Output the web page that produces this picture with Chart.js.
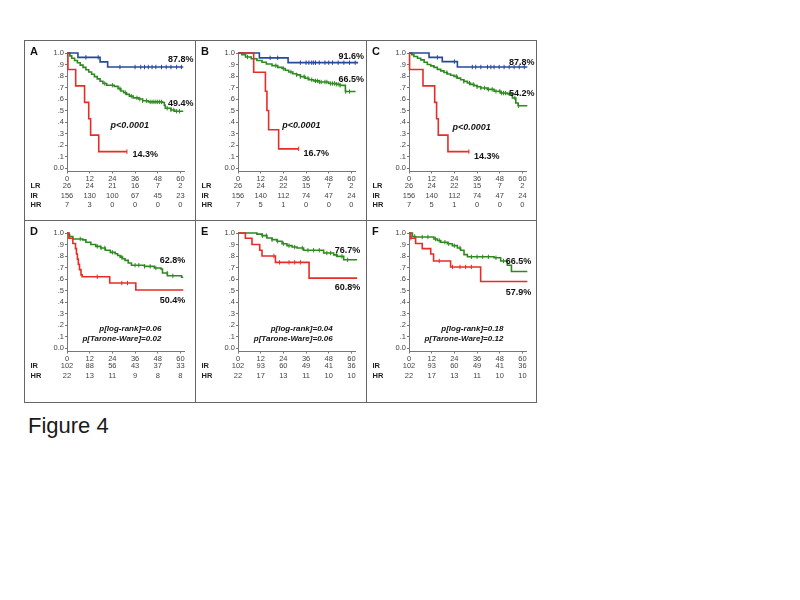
<!DOCTYPE html>
<html>
<head>
<meta charset="utf-8">
<script src="https://cdn.jsdelivr.net/npm/chart.js@4.4.1/dist/chart.umd.min.js"></script>
<style>
  body { margin: 0; background: #fff; width: 800px; height: 600px; position: relative; overflow: hidden;
         font-family: "Liberation Sans", Arial, sans-serif; }
  canvas { position: absolute; }
  .rule { position: absolute; background: #666; }
  #caption { position: absolute; left: 28px; top: 415px; font-size: 22px; line-height: 22px; color: #1a1a1a; }
</style>
</head>
<body>
<canvas id="cA" width="171" height="180" style="left:24px;top:40px"></canvas>
<canvas id="cB" width="171" height="180" style="left:195px;top:40px"></canvas>
<canvas id="cC" width="171" height="180" style="left:366px;top:40px"></canvas>
<canvas id="cD" width="171" height="183" style="left:24px;top:220px"></canvas>
<canvas id="cE" width="171" height="183" style="left:195px;top:220px"></canvas>
<canvas id="cF" width="171" height="183" style="left:366px;top:220px"></canvas>

<div class="rule" style="left:24px;top:40px;width:513px;height:1px"></div>
<div class="rule" style="left:24px;top:402px;width:513px;height:1px"></div>
<div class="rule" style="left:24px;top:220px;width:513px;height:1px"></div>
<div class="rule" style="left:24px;top:40px;width:1px;height:363px"></div>
<div class="rule" style="left:195px;top:40px;width:1px;height:363px"></div>
<div class="rule" style="left:366px;top:40px;width:1px;height:363px"></div>
<div class="rule" style="left:536px;top:40px;width:1px;height:363px"></div>
<div id="caption">Figure 4</div>

<script>
// axis ticks
const months = [0, 12, 24, 36, 48, 60];
const yTicks = [0, 0.1, 0.2, 0.3, 0.4, 0.5, 0.6, 0.7, 0.8, 0.9, 1.0];
const yTickLabels = ["0.0", ".1", ".2", ".3", ".4", ".5", ".6", ".7", ".8", ".9", "1.0"];

// panel A  (month, survival) steps
const aBlue = [[0, 1], [5.8, 0.962], [17.5, 0.923], [21.5, 0.878], [61.5, 0.878]];
const aGreen = [[0, 1], [1.5, 0.975], [2.5, 0.955], [4, 0.935], [5.5, 0.915], [7, 0.895], [8.5, 0.875],
  [10, 0.855], [11.5, 0.835], [13, 0.815], [14.5, 0.795], [16, 0.775], [17.5, 0.755], [19, 0.735],
  [21, 0.72], [25, 0.71], [27, 0.69], [28.5, 0.67], [30, 0.655], [31.5, 0.64], [33, 0.625], [35, 0.61],
  [38, 0.6], [40, 0.585], [43, 0.575], [50.5, 0.57], [51.5, 0.545], [52, 0.52], [55, 0.505],
  [57, 0.494], [61.5, 0.494]];
const aRed = [[0, 1], [0.5, 0.857], [4.6, 0.714], [9.3, 0.571], [11.5, 0.429], [12.5, 0.286],
  [16.8, 0.143], [31.7, 0.143]];
const aBlueCens = [10, 16.5, 28, 36, 39, 41, 43, 45, 47, 50, 52.5, 55, 58, 60.5];
const aGreenCens = [20, 24, 28, 31, 34, 37, 38.5, 40, 42, 44, 45, 46, 47, 48, 49, 50, 53, 55, 56.5, 58, 59.5];
const aRedCens = [31.7];
const aLR = [26, 24, 21, 16, 7, 2];
const aIR = [156, 130, 100, 67, 45, 23];
const aHR = [7, 3, 0, 0, 0, 0];
const aText = ["87.8%", "49.4%", "14.3%", "p<0.0001"];

// panel B
const bBlue = [[0, 1], [11.3, 0.958], [26.5, 0.916], [63.5, 0.916]];
const bGreen = [[0, 1], [2, 0.985], [4, 0.965], [7, 0.95], [10, 0.935], [12.7, 0.92], [15, 0.905],
  [18, 0.89], [21, 0.875], [23.3, 0.865], [25, 0.85], [26.8, 0.835], [29, 0.82], [31, 0.81],
  [33, 0.795], [35.5, 0.78], [37.5, 0.768], [40, 0.758], [43, 0.748], [48, 0.735], [52, 0.728],
  [54, 0.719], [56.8, 0.665], [62.2, 0.665]];
const bRed = [[0, 1], [8.3, 0.833], [14.5, 0.667], [15.3, 0.5], [16.2, 0.333], [21.5, 0.167], [32.1, 0.167]];
const bBlueCens = [17, 21, 33, 36, 37.5, 39, 40, 41, 43, 46, 48, 50, 53, 56, 59, 62];
const bGreenCens = [5, 20, 24, 28, 31, 33, 35, 37, 39, 41, 42, 43, 44, 46, 47, 49, 50, 51, 52, 53, 54, 57, 59];
const bRedCens = [32.1];
const bLR = [26, 24, 22, 15, 7, 2];
const bIR = [156, 140, 112, 74, 47, 24];
const bHR = [7, 5, 1, 0, 0, 0];
const bText = ["91.6%", "66.5%", "16.7%", "p<0.0001"];

// panel C
const cBlue = [[0, 1], [10.6, 0.962], [17.6, 0.925], [25.6, 0.878], [62.6, 0.878]];
const cGreen = [[0, 1], [1.5, 0.985], [2.6, 0.97], [4.5, 0.955], [6.2, 0.94], [8, 0.92], [9.7, 0.9],
  [11.5, 0.888], [13.2, 0.875], [15, 0.858], [16.8, 0.845], [18.5, 0.83], [20.3, 0.817], [22, 0.807],
  [23.8, 0.797], [25.5, 0.782], [27.3, 0.767], [29, 0.753], [30.9, 0.739], [32.5, 0.727], [34.4, 0.716],
  [36, 0.706], [37.9, 0.696], [41.4, 0.684], [45, 0.667], [48.5, 0.652], [52, 0.645], [54.7, 0.609],
  [56.5, 0.565], [57.7, 0.542], [62.6, 0.542]];
const cRed = [[0, 1], [0.3, 0.857], [7.4, 0.714], [13.6, 0.571], [14.6, 0.429], [15.5, 0.286],
  [20.6, 0.143], [31.7, 0.143]];
const cBlueCens = [15, 24, 33.5, 35.3, 38, 41.5, 43.3, 45, 47.7, 50.3, 53, 55.6, 58.3, 61];
const cGreenCens = [20, 25, 29, 32, 34, 36, 38, 40, 42, 44, 46, 48, 49, 50, 51, 53, 56, 58];
const cRedCens = [31.7];
const cLR = [26, 24, 22, 15, 7, 2];
const cIR = [156, 140, 112, 74, 47, 24];
const cHR = [7, 5, 1, 0, 0, 0];
const cText = ["87.8%", "54.2%", "14.3%", "p<0.0001"];

// panel D
const dGreen = [[0, 1], [1, 0.985], [1.4, 0.97], [3.1, 0.948], [8.3, 0.94], [10, 0.92], [12.6, 0.9],
  [15.2, 0.884], [17.8, 0.87], [20.3, 0.85], [22.9, 0.832], [25.5, 0.82], [26.8, 0.805], [28.1, 0.79],
  [29.4, 0.776], [30.7, 0.762], [32.4, 0.739], [34.1, 0.72], [41, 0.71], [46.2, 0.696], [49.7, 0.687],
  [50.5, 0.652], [53.1, 0.628], [60.6, 0.615], [61.5, 0.615]];
const dRed = [[0, 1], [1, 0.955], [3.1, 0.909], [4.5, 0.864], [5, 0.818], [5.5, 0.773], [6, 0.727],
  [6.6, 0.682], [7.4, 0.636], [8, 0.62], [22.6, 0.565], [36.4, 0.504], [61.5, 0.504]];
const dGreenCens = [7, 16, 18, 20, 24, 29, 36, 38, 41, 44, 47, 53, 56];
const dRedCens = [16, 29, 32];
const dIR = [102, 88, 56, 43, 37, 33];
const dHR = [22, 13, 11, 9, 8, 8];
const dText = ["62.8%", "50.4%", "p[log-rank]=0.06", "p[Tarone-Ware]=0.02"];

// panel E
const eGreen = [[0, 1], [10, 0.99], [12.7, 0.977], [15.3, 0.957], [18, 0.942], [20.6, 0.928],
  [23.3, 0.907], [25.9, 0.89], [28.6, 0.878], [31.2, 0.87], [34.7, 0.85], [45.3, 0.826], [50.6, 0.81],
  [52.4, 0.797], [55.9, 0.767], [63, 0.767]];
const eRed = [[0, 1], [3.9, 0.955], [7.4, 0.9], [11.5, 0.85], [12.7, 0.8], [19.8, 0.745], [37.6, 0.608], [63, 0.608]];
const eGreenCens = [13, 15, 18, 21, 24, 27, 30, 34, 37, 40, 43, 47, 49, 52, 55, 58];
const eRedCens = [19, 22, 27, 30, 33];
const eIR = [102, 93, 60, 49, 41, 36];
const eHR = [22, 17, 13, 11, 10, 10];
const eText = ["76.7%", "60.8%", "p[log-rank]=0.04", "p[Tarone-Ware]=0.06"];

// panel F
const fGreen = [[0, 1], [1.8, 0.97], [3.5, 0.965], [13.2, 0.948], [15, 0.935], [16.8, 0.92], [20.3, 0.907],
  [22.9, 0.89], [25.6, 0.87], [27.3, 0.85], [29.1, 0.812], [30.9, 0.793], [45, 0.785], [48.5, 0.757],
  [52, 0.72], [54.2, 0.665], [62.6, 0.665]];
const fRed = [[0, 1], [1, 0.955], [3.5, 0.909], [7, 0.864], [11.5, 0.818], [13, 0.757], [22, 0.705],
  [37.9, 0.579], [62.6, 0.579]];
const fGreenCens = [3, 7, 10, 14, 16, 19, 21, 24, 27, 33, 36, 39, 42, 46, 50];
const fRedCens = [1, 16, 23, 27, 30, 33];
const fIR = [102, 93, 60, 49, 41, 36];
const fHR = [22, 17, 13, 11, 10, 10];
const fText = ["66.5%", "57.9%", "p[log-rank]=0.18", "p[Tarone-Ware]=0.12"];

const BLUE = "#27489a";
const GREEN = "#2d8a1e";
const RED = "#e62d26";
const family = '"Liberation Sans", Arial, sans-serif';
const pctFont = "bold 9px " + family;
const pFont = "italic bold 9px " + family;
const pSmall = "italic bold 8px " + family;

// survival level of a step curve at a censoring time
function levelAt(curve, t) {
  let s = curve[0][1];
  curve.forEach(function(p) {
    if (p[0] <= t) s = p[1];
  });
  return s;
}

function curveDataset(curve, color) {
  return {
    data: curve.map(p => ({ x: p[0], y: p[1] })),
    borderColor: color,
    borderWidth: 1.6,
    stepped: true,
    pointRadius: 0,
    fill: false,
    clip: false
  };
}

function censorDataset(curve, times, color) {
  return {
    data: times.map(t => ({ x: t, y: levelAt(curve, t) })),
    showLine: false,
    pointStyle: "line",
    rotation: 90,
    pointRadius: 2.2,
    pointBorderWidth: 1,
    pointBorderColor: color,
    borderColor: color,
    clip: false
  };
}

function textPlugin(panel) {
  return {
    id: "panelText" + panel.letter,
    afterDraw(chart) {
      const ctx = chart.ctx;
      const xs = chart.scales.x;
      const ys = chart.scales.y;
      ctx.save();
      ctx.fillStyle = "#111";
      ctx.textBaseline = "middle";
      ctx.textAlign = "left";
      ctx.font = "bold 11px " + family;
      ctx.fillText(panel.letter, 6, 12);

      panel.notes.forEach(function(n) {
        ctx.font = n.font;
        ctx.textAlign = n.align;
        ctx.fillText(n.text, xs.getPixelForValue(n.x), ys.getPixelForValue(n.y));
      });

      const b = chart.chartArea.bottom;
      panel.risk.forEach(function(row, r) {
        const yy = b + 14.8 + r * 9.2;
        ctx.fillStyle = "#222";
        ctx.textAlign = "left";
        ctx.font = "bold 7.5px " + family;
        ctx.fillText(row[0], 6.5, yy);
        ctx.fillStyle = "#444";
        ctx.textAlign = "center";
        ctx.font = "7.5px " + family;
        row[1].forEach(function(v, i) {
          ctx.fillText(String(v), xs.getPixelForValue(months[i]), yy);
        });
      });
      ctx.restore();
    }
  };
}

function note(text, x, y, align, font) {
  return { text: text, x: x, y: y, align: align, font: font };
}

const panels = [
  { id: "cA", letter: "A", height: 180,
    curves: [[aRed, aRedCens, RED], [aBlue, aBlueCens, BLUE], [aGreen, aGreenCens, GREEN]],
    risk: [["LR", aLR], ["IR", aIR], ["HR", aHR]],
    notes: [note(aText[0], 53.4, 0.945, "left", pctFont), note(aText[1], 53.4, 0.565, "left", pctFont),
            note(aText[2], 34.6, 0.117, "left", pctFont), note(aText[3], 33.2, 0.369, "center", pFont)] },
  { id: "cB", letter: "B", height: 180,
    curves: [[bRed, bRedCens, RED], [bBlue, bBlueCens, BLUE], [bGreen, bGreenCens, GREEN]],
    risk: [["LR", bLR], ["IR", bIR], ["HR", bHR]],
    notes: [note(bText[0], 53.2, 0.967, "left", pctFont), note(bText[1], 53.2, 0.77, "left", pctFont),
            note(bText[2], 34.7, 0.125, "left", pctFont), note(bText[3], 33.5, 0.369, "center", pFont)] },
  { id: "cC", letter: "C", height: 180,
    curves: [[cRed, cRedCens, RED], [cBlue, cBlueCens, BLUE], [cGreen, cGreenCens, GREEN]],
    risk: [["LR", cLR], ["IR", cIR], ["HR", cHR]],
    notes: [note(cText[0], 52.9, 0.916, "left", pctFont), note(cText[1], 52.9, 0.65, "left", pctFont),
            note(cText[2], 34.4, 0.104, "left", pctFont), note(cText[3], 33.1, 0.354, "center", pFont)] },
  { id: "cD", letter: "D", height: 183,
    curves: [[dRed, dRedCens, RED], [dGreen, dGreenCens, GREEN]],
    risk: [["IR", dIR], ["HR", dHR]],
    notes: [note(dText[0], 49, 0.765, "left", pctFont), note(dText[1], 49, 0.409, "left", pctFont),
            note(dText[2], 49.9, 0.163, "right", pSmall), note(dText[3], 49.9, 0.078, "right", pSmall)] },
  { id: "cE", letter: "E", height: 183,
    curves: [[eRed, eRedCens, RED], [eGreen, eGreenCens, GREEN]],
    risk: [["IR", eIR], ["HR", eHR]],
    notes: [note(eText[0], 51.2, 0.846, "left", pctFont), note(eText[1], 51.2, 0.524, "left", pctFont),
            note(eText[2], 50.1, 0.163, "right", pSmall), note(eText[3], 50.1, 0.078, "right", pSmall)] },
  { id: "cF", letter: "F", height: 183,
    curves: [[fRed, fRedCens, RED], [fGreen, fGreenCens, GREEN]],
    risk: [["IR", fIR], ["HR", fHR]],
    notes: [note(fText[0], 51.2, 0.75, "left", pctFont), note(fText[1], 51.2, 0.481, "left", pctFont),
            note(fText[2], 49.9, 0.163, "right", pSmall), note(fText[3], 49.9, 0.078, "right", pSmall)] }
];

panels.forEach(function(panel) {
  const datasets = [];
  panel.curves.forEach(function(c) {
    datasets.push(curveDataset(c[0], c[2]));
  });
  panel.curves.forEach(function(c) {
    datasets.push(censorDataset(c[0], c[1], c[2]));
  });

  new Chart(document.getElementById(panel.id), {
    type: "line",
    data: { datasets: datasets },
    options: {
      responsive: false,
      animation: false,
      events: [],
      layout: {
        padding: { left: 0, right: 10.8, top: 13, bottom: panel.height - 131.5 - 10 }
      },
      plugins: {
        legend: { display: false },
        tooltip: { enabled: false }
      },
      scales: {
        x: {
          type: "linear",
          min: 0,
          max: 62,
          afterBuildTicks: function(s) { s.ticks = months.map(v => ({ value: v })); },
          afterFit: function(s) { s.height = 10; },
          grid: { display: true, drawOnChartArea: false, drawTicks: true, tickLength: 2, color: "#777" },
          border: { display: true, color: "#777" },
          ticks: { font: { size: 7.5, family: family }, color: "#444", padding: 1, maxRotation: 0, autoSkip: false }
        },
        y: {
          min: -0.03,
          max: 1,
          afterBuildTicks: function(s) { s.ticks = yTicks.map(v => ({ value: v })); },
          afterFit: function(s) { s.width = 43; },
          grid: { display: true, drawOnChartArea: false, drawTicks: true, tickLength: 2, color: "#777" },
          border: { display: true, color: "#777" },
          ticks: {
            font: { size: 7.5, family: family },
            color: "#444",
            padding: 1,
            autoSkip: false,
            callback: function(value, index) { return yTickLabels[index]; }
          }
        }
      }
    },
    plugins: [textPlugin(panel)]
  });
});
</script>
</body>
</html>
